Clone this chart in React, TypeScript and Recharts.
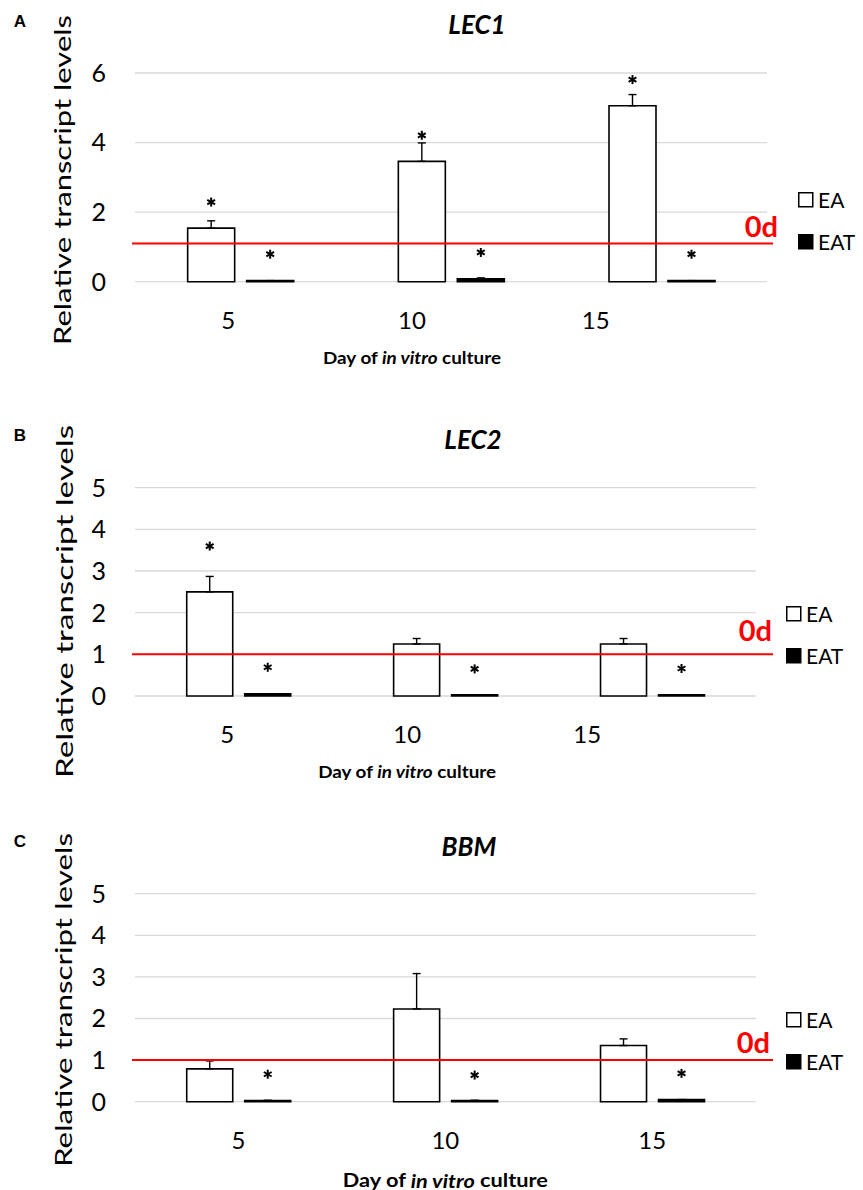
import React from 'react';
import { BarChart, Bar, XAxis, YAxis, CartesianGrid, ReferenceLine, ErrorBar, Legend } from 'recharts';

// ---------- data ----------
const days = ['5', '10', '15'];
const seriesNames = ['EA', 'EAT'];
const yLabelText = 'Relative transcript levels';
const baselineLabel = '0d';

// LEC1
const lec1EA = [1.54, 3.46, 5.06];
const lec1EAErr = [0.21, 0.53, 0.32];
const lec1EAT = [0.03, 0.08, 0.03];
const lec1EATErr = [0, 0.03, 0];
const lec1EAStar = [2.29, 4.21, 5.81];
const lec1EATStar = [0.79, 0.84, 0.79];
const lec1Ticks = [0, 2, 4, 6];
const lec1Baseline = 1.1;

// LEC2
const lec2EA = [2.5, 1.25, 1.25];
const lec2EAErr = [0.37, 0.13, 0.13];
const lec2EAT = [0.05, 0.03, 0.03];
const lec2EATErr = [0, 0, 0];
const lec2EAStar = [3.6, null, null];
const lec2EATStar = [0.69, 0.65, 0.66];
const lec2Ticks = [0, 1, 2, 3, 4, 5];
const lec2Baseline = 1;

// BBM
const bbmEA = [0.79, 2.23, 1.35];
const bbmEAErr = [0.19, 0.85, 0.16];
const bbmEAT = [0.03, 0.03, 0.05];
const bbmEATErr = [0, 0, 0];
const bbmEAStar = [null, null, null];
const bbmEATStar = [0.66, 0.64, 0.68];
const bbmTicks = [0, 1, 2, 3, 4, 5];
const bbmBaseline = 1;

// ---------- layout ----------
const W = 863;
const YW = 60;
const XH = 60;
const FONT = 'Lato, "Open Sans", sans-serif';

type Cfg = {
  letter: string; title: string; top: number; height: number;
  plotTop: number; plotBottom: number; plotLeft: number; plotRight: number;
  ticks: number[]; baseline: number;
  ea: number[]; eaErr: number[]; eat: number[]; eatErr: number[];
  eaStar: (number | null)[]; eatStar: (number | null)[];
  lineRight: number; odRight: number; odGap: number;
  tickK: number; tickD: number; xTitleDy: number; xTitleLen: number; xTitleSize: number;
  yLabelX: number; yLabelY: number; yLabelLen: number;
  legendX: number; legendY: number; titleX: number; titleY: number; letterY: number;
};

const panels: Cfg[] = [
  {
    letter: 'A', title: 'LEC1', top: 0, height: 380,
    plotTop: 73, plotBottom: 281.7, plotLeft: 135, plotRight: 767,
    ticks: lec1Ticks, baseline: lec1Baseline,
    ea: lec1EA, eaErr: lec1EAErr, eat: lec1EAT, eatErr: lec1EATErr, eaStar: lec1EAStar, eatStar: lec1EATStar,
    lineRight: 773, odRight: 778, odGap: 6.3,
    tickK: 0.872, tickD: 18.7, xTitleDy: 75.3, xTitleLen: 178, xTitleSize: 17,
    yLabelX: 61.7, yLabelY: 180, yLabelLen: 330,
    legendX: 798, legendY: 191.7, titleX: 477, titleY: 24, letterY: 21,
  },
  {
    letter: 'B', title: 'LEC2', top: 380, height: 400,
    plotTop: 487.7, plotBottom: 696, plotLeft: 135, plotRight: 755.7,
    ticks: lec2Ticks, baseline: lec2Baseline,
    ea: lec2EA, eaErr: lec2EAErr, eat: lec2EAT, eatErr: lec2EATErr, eaStar: lec2EAStar, eatStar: lec2EATStar,
    lineRight: 773, odRight: 772, odGap: 13.6,
    tickK: 0.87, tickD: 19.7, xTitleDy: 75, xTitleLen: 178, xTitleSize: 17,
    yLabelX: 63.3, yLabelY: 601.5, yLabelLen: 353,
    legendX: 786, legendY: 606, titleX: 473, titleY: 439, letterY: 435,
  },
  {
    letter: 'C', title: 'BBM', top: 780, height: 410,
    plotTop: 893.7, plotBottom: 1101.7, plotLeft: 135, plotRight: 755.7,
    ticks: bbmTicks, baseline: bbmBaseline,
    ea: bbmEA, eaErr: bbmEAErr, eat: bbmEAT, eatErr: bbmEATErr, eaStar: bbmEAStar, eatStar: bbmEATStar,
    lineRight: 773, odRight: 770, odGap: 6.7,
    tickK: 1, tickD: 0, xTitleDy: 78, xTitleLen: 205, xTitleSize: 19,
    yLabelX: 62, yLabelY: 1000, yLabelLen: 334,
    legendX: 786, legendY: 1012.3, titleX: 469, titleY: 846, letterY: 841.7,
  },
];

const Star = ({ cx, cy }: { cx: number; cy: number }) => {
  const r = 4.5;
  const lines = [90, 30, -30].map((a) => {
    const rad = (a * Math.PI) / 180;
    const dx = r * Math.cos(rad);
    const dy = r * Math.sin(rad);
    return <line key={a} x1={cx - dx} y1={cy - dy} x2={cx + dx} y2={cy + dy} stroke="#000" strokeWidth={2} />;
  });
  return <g>{lines}</g>;
};

const starShape = (key: string) => (props: any) => {
  const { x, y, width, payload } = props;
  if (!payload || payload[key] == null) return <g />;
  return <Star cx={x + width / 2} cy={y} />;
};

function Panel({ cfg }: { cfg: Cfg }) {
  const data = days.map((d, i) => ({
    day: d,
    ea: cfg.ea[i],
    eaErr: [0, cfg.eaErr[i]],
    eaGap: cfg.eaStar[i] != null ? (cfg.eaStar[i] as number) - cfg.ea[i] : 0,
    eaStarV: cfg.eaStar[i],
    eat: cfg.eat[i],
    eatErr: [0, cfg.eatErr[i]],
    eatGap: cfg.eatStar[i] != null ? (cfg.eatStar[i] as number) - cfg.eat[i] : 0,
    eatStarV: cfg.eatStar[i],
  }));
  const max = cfg.ticks[cfg.ticks.length - 1];
  const margin = {
    top: cfg.plotTop - cfg.top,
    right: W - cfg.plotRight,
    bottom: cfg.top + cfg.height - cfg.plotBottom - XH,
    left: cfg.plotLeft - YW,
  };
  const plotCenter = (cfg.plotLeft + cfg.plotRight) / 2;

  const XTick = (p: any) => {
    const x = cfg.tickK * p.x + cfg.tickD;
    return (
      <text x={x} y={p.y} dy="0.71em" textAnchor="middle" fontSize={24} fontFamily={FONT} fill="#000">
        {p.payload.value}
      </text>
    );
  };

  const XTitle = () => {
    const cx = cfg.tickK * plotCenter + cfg.tickD;
    const cy = cfg.plotBottom - cfg.top + cfg.xTitleDy;
    return (
      <text x={cx} y={cy} textAnchor="middle" dominantBaseline="central" fontSize={cfg.xTitleSize}
        fontFamily={FONT} fontWeight="bold" fill="#000" textLength={cfg.xTitleLen} lengthAdjust="spacingAndGlyphs">
        Day of <tspan fontStyle="italic">in vitro</tspan> culture
      </text>
    );
  };

  const lineShape = (p: any) => (
    <g>
      <line x1={p.x1 - 3} y1={p.y1} x2={cfg.lineRight} y2={p.y2} stroke="#ff0000" strokeWidth={2} />
      <text x={cfg.odRight} y={p.y1 - cfg.odGap} textAnchor="end" fontSize={29} fontWeight="bold"
        fontFamily={FONT} fill="#ff0000">{baselineLabel}</text>
    </g>
  );

  const LegendContent = () => (
    <svg width={80} height={62} style={{ display: 'block', overflow: 'visible' }}>
      {seriesNames.map((n, i) => (
        <g key={n} transform={`translate(0, ${i * 42})`}>
          <rect x={0.75} y={0.75} width={14} height={14} fill={i === 0 ? '#fff' : '#000'} stroke="#000" strokeWidth={1.5} />
          <text x={20} y={7.5} dominantBaseline="central" fontSize={21} fontFamily={FONT} fill="#000">{n}</text>
        </g>
      ))}
    </svg>
  );

  return (
    <div style={{ position: 'absolute', left: 0, top: cfg.top, width: W, height: cfg.height }}>
      <BarChart width={W} height={cfg.height} data={data} margin={margin} barCategoryGap="25%" barGap={12}>
        <CartesianGrid vertical={false} stroke="#d9d9d9" strokeWidth={1.3} />
        <XAxis dataKey="day" axisLine={false} tickLine={false} tickSize={0} tickMargin={30} height={XH}
          interval={0} tick={<XTick />} label={<XTitle />} />
        <YAxis domain={[0, max]} ticks={cfg.ticks} width={YW} axisLine={false} tickLine={false} tickSize={0}
          tickMargin={29} interval={0} tick={{ fontSize: 25, fontFamily: FONT, fill: '#000' }} />
        <Bar dataKey="ea" stackId="ea" fill="#ffffff" stroke="#000" strokeWidth={1.6} isAnimationActive={false}>
          <ErrorBar dataKey="eaErr" width={4} stroke="#000" strokeWidth={1.4} direction="y" />
        </Bar>
        <Bar dataKey="eaGap" stackId="ea" fill="none" isAnimationActive={false} shape={starShape('eaStarV')} />
        <Bar dataKey="eat" stackId="eat" fill="#000" stroke="#000" strokeWidth={1.6} isAnimationActive={false}>
          <ErrorBar dataKey="eatErr" width={4} stroke="#000" strokeWidth={1.4} direction="y" />
        </Bar>
        <Bar dataKey="eatGap" stackId="eat" fill="none" isAnimationActive={false} shape={starShape('eatStarV')} />
        <ReferenceLine y={cfg.baseline} shape={lineShape} />
        <Legend content={<LegendContent />}
          wrapperStyle={{ position: 'absolute', left: cfg.legendX, top: cfg.legendY - cfg.top, width: 0, height: 0, overflow: 'visible', bottom: 'auto', right: 'auto' }} />
      </BarChart>
      <svg width={W} height={cfg.height} style={{ position: 'absolute', left: 0, top: 0, pointerEvents: 'none' }}>
        <text x={20} y={cfg.letterY - cfg.top} textAnchor="middle" dominantBaseline="central" fontSize={17}
          fontWeight="bold" fontFamily='"Liberation Sans", Arial, sans-serif' fill="#000">{cfg.letter}</text>
        <text x={cfg.titleX} y={cfg.titleY - cfg.top} textAnchor="middle" dominantBaseline="central" fontSize={26}
          fontWeight="bold" fontStyle="italic" fontFamily={FONT} fill="#000">{cfg.title}</text>
        <text transform={`translate(${cfg.yLabelX}, ${cfg.yLabelY - cfg.top}) rotate(-90)`} textAnchor="middle"
          dominantBaseline="central" fontSize={24} fontFamily={FONT} fill="#000"
          textLength={cfg.yLabelLen} lengthAdjust="spacingAndGlyphs">{yLabelText}</text>
      </svg>
    </div>
  );
}

export default function App() {
  return (
    <div style={{ position: 'absolute', left: 0, top: 0, width: W, height: 1190, background: '#fff', overflow: 'hidden' }}>
      {panels.map((p) => (
        <Panel key={p.letter} cfg={p} />
      ))}
    </div>
  );
}
